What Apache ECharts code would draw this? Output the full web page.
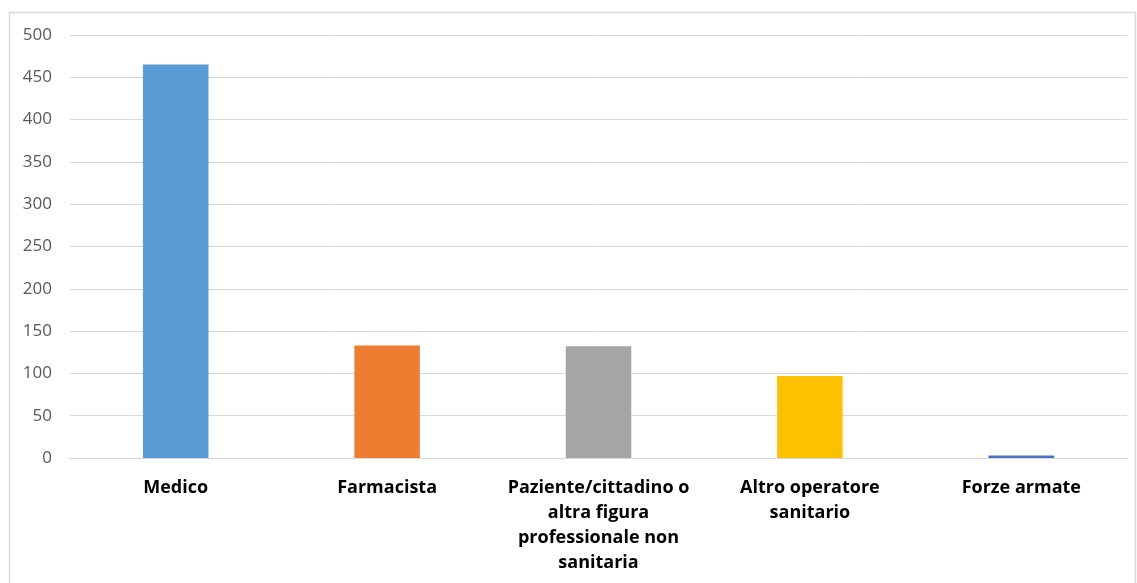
<!DOCTYPE html>
<html><head><meta charset="utf-8">
<script src="https://cdn.jsdelivr.net/npm/echarts@6/dist/echarts.min.js"></script>
<style>html,body{margin:0;padding:0;background:#fff}#c{width:1137px;height:583px}</style>
</head><body><div id="c"></div>
<script>
const categories = ["Medico", "Farmacista", "Paziente/cittadino o\naltra figura\nprofessionale non\nsanitaria", "Altro operatore\nsanitario", "Forze armate"];
const values = [465, 133, 132, 97, 3];
const barColors = ["#5B9BD5", "#ED7D31", "#A5A5A5", "#FFC000", "#4472C4"];
const yTicks = [0, 50, 100, 150, 200, 250, 300, 350, 400, 450, 500];

const chart = echarts.init(document.getElementById('c'), null, {renderer: 'canvas'});
chart.setOption({
  animation: false,
  backgroundColor: '#fff',
  graphic: [{type: 'rect', shape: {x: 9.5, y: 12.5, width: 1126, height: 600}, style: {fill: 'none', stroke: '#D9D9D9', lineWidth: 1.5}, z: -1}],
  grid: {left: 70, right: 10, top: 35, bottom: 125, containLabel: false},
  xAxis: {
    type: 'category', data: categories,
    axisLine: {lineStyle: {color: '#D9D9D9', width: 1}},
    axisTick: {show: false},
    axisLabel: {color: '#000', fontWeight: 'bold', fontSize: 18, fontFamily: 'Open Sans, Liberation Sans, sans-serif', lineHeight: 25, margin: 17, interval: 0}
  },
  yAxis: {
    type: 'value', min: yTicks[0], max: yTicks[yTicks.length - 1], interval: 50,
    axisLine: {show: false}, axisTick: {show: false},
    splitLine: {lineStyle: {color: '#D9D9D9', width: 1}},
    axisLabel: {color: '#595959', fontSize: 17, fontFamily: 'Open Sans, Liberation Sans, sans-serif', margin: 18}
  },
  series: [{
    type: 'bar', barWidth: '31%',
    data: values.map((v, i) => ({value: v, itemStyle: {color: barColors[i]}}))
  }]
});
</script></body></html>
